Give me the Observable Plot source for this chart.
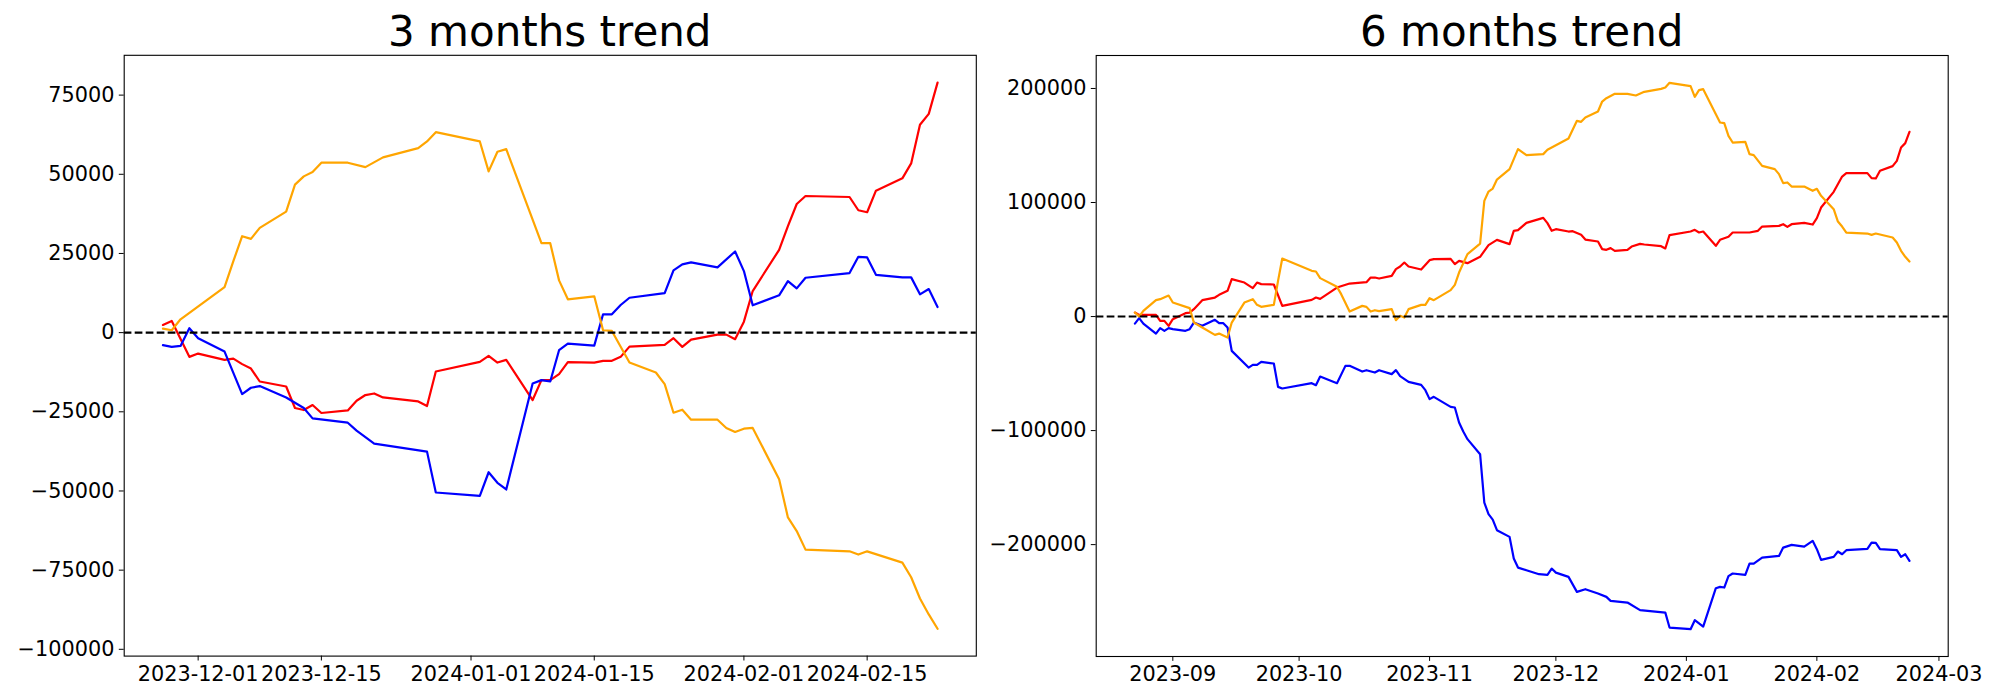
<!DOCTYPE html>
<html><head><meta charset="utf-8">
<script src="https://cdn.jsdelivr.net/npm/d3@7"></script>
<script src="https://cdn.jsdelivr.net/npm/@observablehq/plot@0.6"></script>
<style>
html,body{margin:0;padding:0;background:#fff;}
#fig{position:relative;width:2000px;height:700px;font-family:"DejaVu Sans",sans-serif;background:#fff;}
.title{position:absolute;top:11px;font-size:42px;line-height:42px;white-space:nowrap;transform:translateX(-50%);color:#000;}
.panel{position:absolute;top:0;}
.panel svg{overflow:visible;}
</style></head><body>
<div id="fig">
  <div class="panel" id="p3" style="left:0px"></div>
  <div class="panel" id="p6" style="left:1000px"></div>
  <div class="title" style="left:549.75px">3 months trend</div>
  <div class="title" style="left:1521.7px">6 months trend</div>
</div>
<script>
// ---------- 3 months trend ----------
const trend3Red = [
["2023-11-27",2420],["2023-11-28",3680],["2023-11-30",-7650],["2023-12-01",-6610],["2023-12-04",-8600],
["2023-12-05",-8190],["2023-12-06",-9950],["2023-12-07",-11340],["2023-12-08",-15430],["2023-12-11",-17000],
["2023-12-12",-23810],["2023-12-13",-24440],["2023-12-14",-22860],["2023-12-15",-25380],["2023-12-18",-24560],
["2023-12-19",-21510],["2023-12-20",-19710],["2023-12-21",-19210],["2023-12-22",-20470],["2023-12-26",-21730],
["2023-12-27",-23180],["2023-12-28",-12280],["2024-01-02",-9230],["2024-01-03",-7340],["2024-01-04",-9450],
["2024-01-05",-8600],["2024-01-08",-21290],["2024-01-09",-14990],["2024-01-10",-14990],["2024-01-11",-13100],
["2024-01-12",-9320],["2024-01-15",-9450],["2024-01-16",-8910],["2024-01-17",-8910],["2024-01-18",-7650],
["2024-01-19",-4410],["2024-01-23",-3870],["2024-01-24",-1760],["2024-01-25",-4500],["2024-01-26",-2200],
["2024-01-29",-630],["2024-01-30",-630],["2024-01-31",-2080],["2024-02-01",3460],["2024-02-02",13130],
["2024-02-05",26140],["2024-02-06",33600],["2024-02-07",40620],["2024-02-08",43140],["2024-02-13",42830],
["2024-02-14",38640],["2024-02-15",38010],["2024-02-16",44840],["2024-02-19",48720],["2024-02-20",53440],
["2024-02-21",65630],["2024-02-22",69090],["2024-02-23",78950]
];
const trend3Blue = [
["2023-11-27",-3970],["2023-11-28",-4500],["2023-11-29",-4190],["2023-11-30",1390],["2023-12-01",-1760],
["2023-12-04",-5980],["2023-12-06",-19400],["2023-12-07",-17410],["2023-12-08",-16880],["2023-12-11",-20470],
["2023-12-13",-23810],["2023-12-14",-27080],["2023-12-18",-28440],["2023-12-19",-30950],["2023-12-21",-35050],
["2023-12-27",-37570],["2023-12-28",-50480],["2024-01-02",-51520],["2024-01-03",-44090],["2024-01-04",-47420],
["2024-01-05",-49530],["2024-01-08",-16060],["2024-01-09",-14990],["2024-01-10",-15430],["2024-01-11",-5540],
["2024-01-12",-3460],["2024-01-15",-4090],["2024-01-16",5790],["2024-01-17",5790],["2024-01-18",8720],
["2024-01-19",11020],["2024-01-23",12500],["2024-01-24",19650],["2024-01-25",21540],["2024-01-26",22170],
["2024-01-29",20590],["2024-01-31",25630],["2024-02-01",19430],["2024-02-02",8630],["2024-02-05",11780],
["2024-02-06",16280],["2024-02-07",13980],["2024-02-08",17320],["2024-02-13",18800],["2024-02-14",23930],
["2024-02-15",23740],["2024-02-16",18260],["2024-02-19",17450],["2024-02-20",17450],["2024-02-21",12090],
["2024-02-22",13760],["2024-02-23",8090]
];
const trend3Orange = [
["2023-11-27",1260],["2023-11-28",756],["2023-11-29",4220],["2023-12-04",14390],["2023-12-05",22580],
["2023-12-06",30450],["2023-12-07",29600],["2023-12-08",33060],["2023-12-11",38230],["2023-12-12",46730],
["2023-12-13",49340],["2023-12-14",50700],["2023-12-15",53660],["2023-12-18",53660],["2023-12-20",52270],
["2023-12-22",55330],["2023-12-26",58260],["2023-12-27",60370],["2023-12-28",63300],["2024-01-02",60370],
["2024-01-03",50920],["2024-01-04",57120],["2024-01-05",57940],["2024-01-09",28250],["2024-01-10",28250],
["2024-01-11",16500],["2024-01-12",10520],["2024-01-15",11460],["2024-01-16",756],["2024-01-17",535],
["2024-01-19",-9450],["2024-01-22",-12600],["2024-01-23",-16250],["2024-01-24",-25290],["2024-01-25",-24340],
["2024-01-26",-27490],["2024-01-29",-27490],["2024-01-30",-30100],["2024-01-31",-31370],["2024-02-01",-30330],
["2024-02-02",-30100],["2024-02-05",-46290],["2024-02-06",-58350],["2024-02-07",-62660],["2024-02-08",-68520],
["2024-02-13",-69060],["2024-02-14",-70090],["2024-02-15",-69060],["2024-02-19",-72620],["2024-02-20",-77240],
["2024-02-21",-83950],["2024-02-22",-88990],["2024-02-23",-93520]
];
const trend3XTicks = ["2023-12-01","2023-12-15","2024-01-01","2024-01-15","2024-02-01","2024-02-15"];
const trend3YTicks = [-100000,-75000,-50000,-25000,0,25000,50000,75000];

// ---------- 6 months trend ----------
const trend6Red = [
["2023-08-23",3510],["2023-08-24",1490],["2023-08-28",1490],["2023-08-29",-3770],["2023-08-30",-3770],
["2023-08-31",-8160],["2023-09-01",-2310],["2023-09-04",2980],["2023-09-05",3510],["2023-09-06",6490],
["2023-09-08",14380],["2023-09-11",16660],["2023-09-12",19030],["2023-09-14",22540],["2023-09-15",32800],
["2023-09-18",29820],["2023-09-20",24910],["2023-09-21",29820],["2023-09-22",28410],["2023-09-25",28120],
["2023-09-27",9380],["2023-10-04",14650],["2023-10-05",16660],["2023-10-06",15490],["2023-10-10",25430],
["2023-10-13",28940],["2023-10-17",30170],["2023-10-18",34200],["2023-10-19",34200],["2023-10-20",33330],
["2023-10-23",35690],["2023-10-24",41570],["2023-10-25",43850],["2023-10-26",47360],["2023-10-27",43850],
["2023-10-30",41220],["2023-11-01",49460],["2023-11-02",50340],["2023-11-06",50630],["2023-11-07",45950],
["2023-11-08",48870],["2023-11-10",46830],["2023-11-13",52360],["2023-11-15",62620],["2023-11-17",67270],
["2023-11-20",63490],["2023-11-21",75160],["2023-11-22",75770],["2023-11-24",82170],["2023-11-28",86560],
["2023-11-29",81910],["2023-11-30",75160],["2023-12-01",76620],["2023-12-04",74550],["2023-12-05",74840],
["2023-12-07",71650],["2023-12-08",67530],["2023-12-11",65780],["2023-12-12",59110],["2023-12-13",58520],
["2023-12-14",59990],["2023-12-15",57620],["2023-12-18",58520],["2023-12-19",61390],["2023-12-21",63760],
["2023-12-22",63170],["2023-12-26",61700],["2023-12-27",59700],["2023-12-28",71390],["2024-01-02",74550],
["2024-01-03",76040],["2024-01-04",73700],["2024-01-05",74550],["2024-01-08",62000],["2024-01-09",67270],
["2024-01-11",69900],["2024-01-12",73700],["2024-01-16",73700],["2024-01-18",75160],["2024-01-19",78930],
["2024-01-23",79520],["2024-01-24",80980],["2024-01-25",78640],["2024-01-26",80980],["2024-01-29",82170],
["2024-01-31",80690],["2024-02-01",86290],["2024-02-02",95590],["2024-02-05",109360],["2024-02-07",122780],
["2024-02-08",125760],["2024-02-13",125760],["2024-02-14",121380],["2024-02-15",121090],["2024-02-16",127780],
["2024-02-19",131900],["2024-02-20",136550],["2024-02-21",148220],["2024-02-22",152070],["2024-02-23",161980]
];
const trend6Blue = [
["2023-08-23",-6140],["2023-08-24",-1400],["2023-08-25",-6140],["2023-08-28",-14910],["2023-08-29",-10170],
["2023-08-30",-12520],["2023-08-31",-10170],["2023-09-01",-11050],["2023-09-04",-12520],["2023-09-05",-11050],
["2023-09-06",-5260],["2023-09-08",-8160],["2023-09-11",-2890],["2023-09-12",-5850],["2023-09-13",-5850],
["2023-09-14",-9650],["2023-09-15",-30080],["2023-09-19",-44730],["2023-09-20",-42380],["2023-09-21",-42380],
["2023-09-22",-39730],["2023-09-25",-41200],["2023-09-26",-61650],["2023-09-27",-63110],["2023-10-04",-58410],
["2023-10-05",-60170],["2023-10-06",-52620],["2023-10-10",-58410],["2023-10-12",-43240],["2023-10-13",-43240],
["2023-10-16",-48240],["2023-10-17",-47060],["2023-10-19",-49100],["2023-10-20",-47060],["2023-10-23",-50520],
["2023-10-24",-47010],["2023-10-25",-52270],["2023-10-27",-57270],["2023-10-30",-59900],["2023-10-31",-64550],
["2023-11-01",-72440],["2023-11-02",-70390],["2023-11-06",-79190],["2023-11-07",-79780],["2023-11-08",-92960],
["2023-11-09",-100860],["2023-11-10",-107520],["2023-11-13",-120680],["2023-11-14",-163120],["2023-11-15",-173300],
["2023-11-16",-178030],["2023-11-17",-187330],["2023-11-20",-193200],["2023-11-21",-212230],["2023-11-22",-220130],
["2023-11-24",-222470],["2023-11-27",-225930],["2023-11-29",-226520],["2023-11-30",-221000],["2023-12-01",-224520],
["2023-12-04",-228290],["2023-12-06",-241430],["2023-12-08",-239070],["2023-12-11",-242930],["2023-12-13",-245820],
["2023-12-14",-249330],["2023-12-18",-250790],["2023-12-21",-257490],["2023-12-27",-259590],["2023-12-28",-272740],
["2024-01-02",-274150],["2024-01-03",-266260],["2024-01-05",-271870],["2024-01-08",-238200],["2024-01-09",-237030],
["2024-01-10",-237620],["2024-01-11",-227670],["2024-01-12",-225330],["2024-01-15",-226500],["2024-01-16",-216620],
["2024-01-17",-216620],["2024-01-19",-211360],["2024-01-23",-209900],["2024-01-24",-202590],["2024-01-26",-200250],
["2024-01-29",-201710],["2024-01-31",-196710],["2024-02-01",-203990],["2024-02-02",-213380],["2024-02-05",-210750],
["2024-02-06",-206070],["2024-02-07",-208410],["2024-02-08",-204900],["2024-02-13",-203730],["2024-02-14",-198200],
["2024-02-15",-198500],["2024-02-16",-204020],["2024-02-20",-204900],["2024-02-21",-210750],["2024-02-22",-208410],
["2024-02-23",-214250]
];
const trend6Orange = [
["2023-08-23",3510],["2023-08-24",0],["2023-08-25",5000],["2023-08-28",14380],["2023-08-29",15250],
["2023-08-31",18420],["2023-09-01",12280],["2023-09-05",7370],["2023-09-06",-5260],["2023-09-08",-9650],
["2023-09-11",-16050],["2023-09-12",-14940],["2023-09-14",-18420],["2023-09-15",-5260],["2023-09-18",12280],
["2023-09-20",15250],["2023-09-21",10260],["2023-09-22",8510],["2023-09-25",10260],["2023-09-26",31310],
["2023-09-27",50870],["2023-10-04",40080],["2023-10-05",39500],["2023-10-06",33680],["2023-10-10",26050],
["2023-10-11",19640],["2023-10-13",4390],["2023-10-16",9360],["2023-10-17",8480],["2023-10-18",4390],
["2023-10-19",5560],["2023-10-20",4700],["2023-10-23",6490],["2023-10-24",-3160],["2023-10-25",610],
["2023-10-26",-880],["2023-10-27",6490],["2023-10-30",10260],["2023-10-31",10260],["2023-11-01",16140],
["2023-11-02",14380],["2023-11-06",23150],["2023-11-07",27800],["2023-11-08",38590],["2023-11-10",54720],
["2023-11-13",64020],["2023-11-14",101470],["2023-11-15",109630],["2023-11-16",112260],["2023-11-17",120150],
["2023-11-20",129270],["2023-11-22",146810],["2023-11-24",141540],["2023-11-28",142420],["2023-11-29",146190],
["2023-12-04",156110],["2023-12-06",171630],["2023-12-07",170750],["2023-12-08",174520],["2023-12-11",179790],
["2023-12-12",188560],["2023-12-13",191480],["2023-12-15",195310],["2023-12-18",195310],["2023-12-20",193850],
["2023-12-22",197060],["2023-12-26",199690],["2023-12-27",200840],["2023-12-28",204960],["2024-01-02",202060],
["2024-01-03",192680],["2024-01-04",198540],["2024-01-05",199400],["2024-01-09",170140],["2024-01-10",169550],
["2024-01-11",158480],["2024-01-12",152600],["2024-01-15",153190],["2024-01-16",142420],["2024-01-17",141540],
["2024-01-19",132160],["2024-01-22",129270],["2024-01-23",124880],["2024-01-24",116990],["2024-01-25",117570],
["2024-01-26",114010],["2024-01-29",114010],["2024-01-31",110240],["2024-02-01",112000],["2024-02-02",105850],
["2024-02-05",94190],["2024-02-06",83320],["2024-02-07",78930],["2024-02-08",73670],["2024-02-13",72790],
["2024-02-14",71620],["2024-02-15",72790],["2024-02-19",69280],["2024-02-20",64900],["2024-02-21",57620],
["2024-02-22",52360],["2024-02-23",48240]
];
const trend6XTicks = ["2023-09-01","2023-10-01","2023-11-01","2023-12-01","2024-01-01","2024-02-01","2024-03-01"];
const trend6YTicks = [-200000,-100000,0,100000,200000];

// ---------- drawing ----------
const pad = ([a, b]) => [a - (b - a) * 0.05, b + (b - a) * 0.05];

function panel({series, xTicks, xFormat, yTicks, marginLeft, marginRight, marginTop, marginBottom}) {
  const all = series.flatMap(s => s.data);
  const xExt = pad(d3.extent(all, d => new Date(d[0]).getTime())).map(t => new Date(t));
  const yExt = pad(d3.extent(all, d => d[1]));
  const marks = [
    Plot.axisX(xTicks.map(t => new Date(t)), {tickFormat: d3.utcFormat(xFormat), tickSize: 4.9, tickPadding: 4.9, label: null}),
    Plot.axisY(yTicks, {tickFormat: d3.format("d"), tickSize: 4.9, tickPadding: 4.9, label: null})
  ];
  for (const s of series) {
    marks.push(Plot.line(s.data, {x: d => new Date(d[0]), y: d => d[1], stroke: s.color, strokeWidth: 2.2}));
  }
  marks.push(Plot.ruleY([0], {stroke: "black", strokeWidth: 2.1, strokeDasharray: "7.7,3.3"}));
  marks.push(Plot.frame({stroke: "black", strokeWidth: 1.1}));
  return Plot.plot({
    width: 1000, height: 700,
    marginLeft, marginRight, marginTop, marginBottom,
    style: {fontFamily: "DejaVu Sans", fontSize: "20.8px", color: "black", background: "white", overflow: "visible"},
    x: {type: "utc", domain: xExt},
    y: {domain: yExt},
    marks
  });
}

document.getElementById("p3").appendChild(panel({
  series: [{data: trend3Red, color: "red"}, {data: trend3Blue, color: "blue"}, {data: trend3Orange, color: "orange"}],
  xTicks: trend3XTicks, xFormat: "%Y-%m-%d", yTicks: trend3YTicks,
  marginLeft: 123.7, marginRight: 24.2, marginTop: 54.8, marginBottom: 44.4
}));
document.getElementById("p6").appendChild(panel({
  series: [{data: trend6Red, color: "red"}, {data: trend6Blue, color: "blue"}, {data: trend6Orange, color: "orange"}],
  xTicks: trend6XTicks, xFormat: "%Y-%m", yTicks: trend6YTicks,
  marginLeft: 95.7, marginRight: 52.3, marginTop: 55, marginBottom: 44
}));
</script>
</body></html>
